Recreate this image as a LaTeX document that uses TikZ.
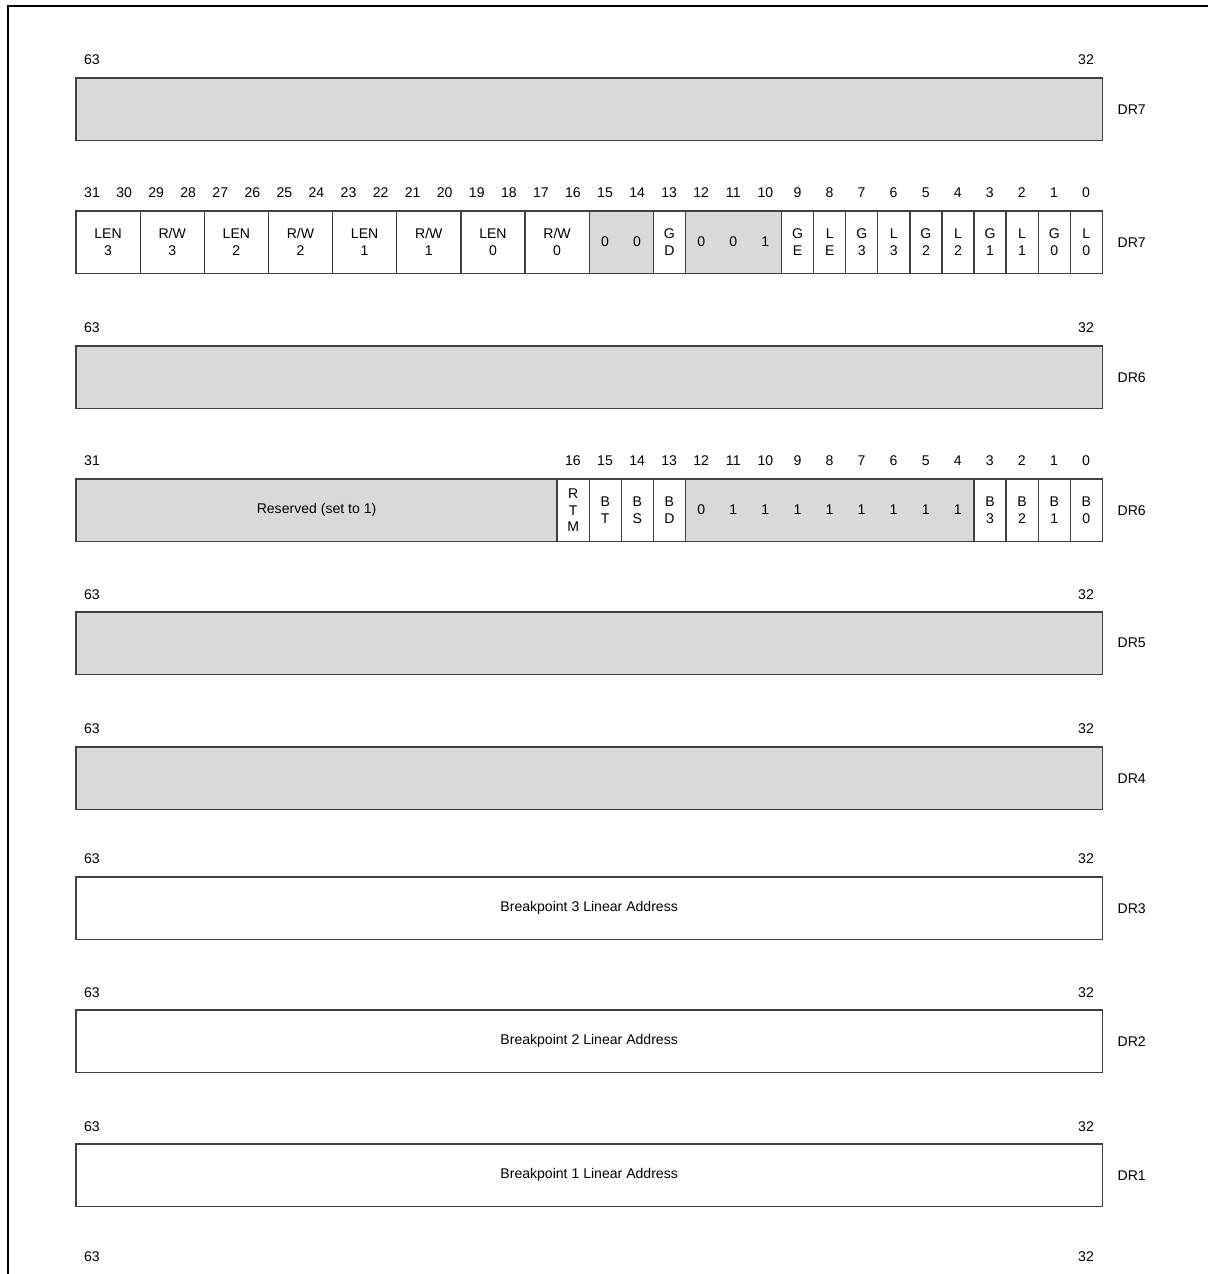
\documentclass[tikz,border=0pt]{standalone}
\usepackage{fontspec}
\setmainfont{Liberation Sans}
\usepackage{tikz}
\usetikzlibrary{positioning}
\newcommand{\regfont}{\fontsize{10}{12}\selectfont}
\tikzset{
  fld/.style    ={rectangle, draw=black!75, line width=0.9pt, fill=white, minimum height=15.6mm,
                  inner sep=0pt, outer sep=0pt, align=center, font=\regfont},
  fldg/.style   ={fld, fill=black!15},
  bits/.style   ={minimum width=#1*8.016mm},
  bitno/.style  ={font=\regfont, inner sep=0pt},
  regname/.style={font=\regfont, inner sep=0pt, right=3.75mm of #1},
  frame/.style  ={line width=1.4pt},
}

\begin{document}
\begin{tikzpicture}[x=0.025cm, y=-0.025cm]
  \useasboundingbox (0,0) rectangle (1208,1274);
  \draw[frame] (8,1274) -- (8,6) -- (1208,6);

  % DR7, upper half
  \node[bitno] (h7a) at (92,60) {63};
  \node[bitno] (h7b) at (1086,60) {32};
  \node[fldg, bits=32, anchor=north west] (dr7h) at (76,78) {};
  \node[regname=dr7h] (dr7hn) {DR7};

  % DR7, lower half
  \foreach \b in {0,...,31}
    \node[bitno] (n7-\b) at ({92.03+(31-\b)*32.0625},193) {\b};
  \node[fld, bits=2, anchor=north west] (len3) at (76,211) {LEN\\3};
  \node[fld, bits=2, right=0mm of len3] (rw3) {R/W\\3};
  \node[fld, bits=2, right=0mm of rw3] (len2) {LEN\\2};
  \node[fld, bits=2, right=0mm of len2] (rw2) {R/W\\2};
  \node[fld, bits=2, right=0mm of rw2] (len1) {LEN\\1};
  \node[fld, bits=2, right=0mm of len1] (rw1) {R/W\\1};
  \node[fld, bits=2, right=0mm of rw1] (len0) {LEN\\0};
  \node[fld, bits=2, right=0mm of len0] (rw0) {R/W\\0};
  \node[fldg, bits=2, right=0mm of rw0] (r7a) {};
  \node[fld, bits=1, right=0mm of r7a] (gd) {G\\D};
  \node[fldg, bits=3, right=0mm of gd] (r7b) {};
  \node[fld, bits=1, right=0mm of r7b] (ge) {G\\E};
  \node[fld, bits=1, right=0mm of ge] (le) {L\\E};
  \node[fld, bits=1, right=0mm of le] (g3) {G\\3};
  \node[fld, bits=1, right=0mm of g3] (l3) {L\\3};
  \node[fld, bits=1, right=0mm of l3] (g2) {G\\2};
  \node[fld, bits=1, right=0mm of g2] (l2) {L\\2};
  \node[fld, bits=1, right=0mm of l2] (g1) {G\\1};
  \node[fld, bits=1, right=0mm of g1] (l1) {L\\1};
  \node[fld, bits=1, right=0mm of l1] (g0) {G\\0};
  \node[fld, bits=1, right=0mm of g0] (l0) {L\\0};
  \foreach \b/\v in {15/0,14/0,12/0,11/0,10/1}
    \node[bitno] (v7-\b) at ({92.03+(31-\b)*32.0625},242) {\v};
  \node[regname=l0] (dr7ln) {DR7};

  % DR6, upper half
  \node[bitno] (h6a) at (92,328) {63};
  \node[bitno] (h6b) at (1086,328) {32};
  \node[fldg, bits=32, anchor=north west] (dr6h) at (76,346) {};
  \node[regname=dr6h] (dr6hn) {DR6};

  % DR6, lower half
  \foreach \b in {31,16,15,...,0}
    \node[bitno] (n6-\b) at ({92.03+(31-\b)*32.0625},461) {\b};
  \node[fldg, bits=15, anchor=north west] (rsv6) at (76,479) {Reserved (set to 1)};
  \node[fld, bits=1, right=0mm of rsv6] (rtm) {R\\T\\M};
  \node[fld, bits=1, right=0mm of rtm] (bt) {B\\T};
  \node[fld, bits=1, right=0mm of bt] (bs) {B\\S};
  \node[fld, bits=1, right=0mm of bs] (bd) {B\\D};
  \node[fldg, bits=9, right=0mm of bd] (r6a) {};
  \node[fld, bits=1, right=0mm of r6a] (b3) {B\\3};
  \node[fld, bits=1, right=0mm of b3] (b2) {B\\2};
  \node[fld, bits=1, right=0mm of b2] (b1) {B\\1};
  \node[fld, bits=1, right=0mm of b1] (b0) {B\\0};
  \foreach \b/\v in {12/0,11/1,10/1,9/1,8/1,7/1,6/1,5/1,4/1}
    \node[bitno] (v6-\b) at ({92.03+(31-\b)*32.0625},510) {\v};
  \node[regname=b0] (dr6ln) {DR6};

  % DR5 and DR4
  \node[bitno] (h5a) at (92,595) {63};
  \node[bitno] (h5b) at (1086,595) {32};
  \node[fldg, bits=32, anchor=north west] (dr5) at (76,612) {};
  \node[regname=dr5] (dr5n) {DR5};
  \node[bitno] (h4a) at (92,729) {63};
  \node[bitno] (h4b) at (1086,729) {32};
  \node[fldg, bits=32, anchor=north west] (dr4) at (76,747) {};
  \node[regname=dr4] (dr4n) {DR4};

  % DR3 to DR1
  \node[bitno] (h3a) at (92,859) {63};
  \node[bitno] (h3b) at (1086,859) {32};
  \node[fld, bits=32, anchor=north west] (dr3) at (76,877) {Breakpoint 3 Linear Address};
  \node[regname=dr3] (dr3n) {DR3};
  \node[bitno] (h2a) at (92,993) {63};
  \node[bitno] (h2b) at (1086,993) {32};
  \node[fld, bits=32, anchor=north west] (dr2) at (76,1010) {Breakpoint 2 Linear Address};
  \node[regname=dr2] (dr2n) {DR2};
  \node[bitno] (h1a) at (92,1127) {63};
  \node[bitno] (h1b) at (1086,1127) {32};
  \node[fld, bits=32, anchor=north west] (dr1) at (76,1144) {Breakpoint 1 Linear Address};
  \node[regname=dr1] (dr1n) {DR1};

  % DR0 (cut off)
  \node[bitno] (h0a) at (92,1257) {63};
  \node[bitno] (h0b) at (1086,1257) {32};
\end{tikzpicture}
\end{document}
